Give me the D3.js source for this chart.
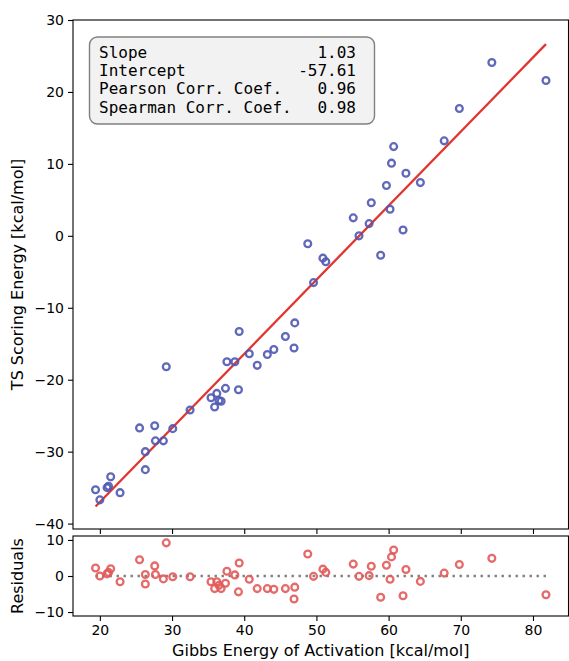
<!DOCTYPE html>
<html>
<head>
<meta charset="utf-8">
<script src="https://cdn.jsdelivr.net/npm/d3@7/dist/d3.min.js"></script>
<style>
  body { margin: 0; background: #fff; }
  svg { display: block; font-family: "DejaVu Sans", sans-serif; }
</style>
</head>
<body>
<script>
// data
var gibbs = [19.4, 20.0, 21.0, 21.2, 21.5, 22.8, 25.5, 26.3, 26.3, 27.6,
             27.7, 28.8, 29.2, 30.1, 32.5, 35.4, 35.9, 36.2, 36.5, 36.8,
             37.4, 37.6, 38.7, 39.2, 39.3, 40.7, 41.8, 43.2, 44.1, 45.7,
             47.0, 46.9, 48.8, 49.6, 50.9, 51.3, 55.1, 55.9, 57.3, 57.6,
             58.9, 59.7, 60.2, 60.4, 60.7, 62.0, 62.4, 64.4, 67.7, 69.8,
             74.3, 81.8]
var tsScore = [-35.3, -36.7, -35.0, -34.8, -33.5, -35.7, -26.7, -30.0, -32.5, -26.4,
               -28.5, -28.5, -18.2, -26.8, -24.2, -22.5, -23.8, -21.9, -22.9, -23.0,
               -21.2, -17.5, -17.5, -21.4, -13.3, -16.4, -18.0, -16.5, -15.8, -14.0,
               -12.1, -15.6, -1.1, -6.5, -3.1, -3.6, 2.5, 0.0, 1.7, 4.6,
               -2.7, 7.0, 3.7, 10.1, 12.4, 0.8, 8.7, 7.4, 13.2, 17.7,
               24.1, 21.6]
var residuals = [2.2, 0.0, 0.6, 1.0, 2.0, -1.6, 4.5, 0.4, -2.2, 2.8,
                 0.4, -0.8, 9.2, -0.2, -0.2, -1.6, -3.5, -1.6, -2.6, -3.5,
                 -2.0, 1.3, 0.3, -4.4, 3.6, -0.9, -3.5, -3.5, -3.7, -3.5,
                 -3.1, -6.4, 6.1, -0.1, 1.9, 1.0, 3.3, -0.1, 0.1, 2.7,
                 -5.9, 3.0, -0.9, 5.3, 7.2, -5.5, 1.8, -1.5, 0.8, 3.2,
                 4.9, -5.2]

var slope = 1.03, intercept = -57.61
var statLabels = ["Slope", "Intercept", "Pearson Corr. Coef.", "Spearman Corr. Coef."]
var statValues = ["1.03", "-57.61", "0.96", "0.98"]

var xTicks = [20, 30, 40, 50, 60, 70, 80]
var yTicks = [-40, -30, -20, -10, 0, 10, 20, 30]
var rTicks = [-10, 0, 10]

var width = 569, height = 661
var left = 73, right = 568.5
var top1 = 20, bot1 = 529, top2 = 536, bot2 = 616

var blue = "#4f58b3", red = "#e25a5a", lineRed = "#e2352f"

var svg = d3.select("body").append("svg")
            .attr("width", width)
            .attr("height", height)

var ext = d3.extent(gibbs)
var pad = (ext[1] - ext[0]) * 0.05
var x = d3.scaleLinear().domain([ext[0] - pad, ext[1] + pad]).range([left, right])
var y = d3.scaleLinear().domain([-40.75, 30]).range([bot1, top1])
var yr = d3.scaleLinear().domain([-11.1, 11.1]).range([bot2, top2])

var fmt = function(d){ return d3.format("d")(d).replace("-", "\u2212") }

function styleAxis(g){
    g.selectAll("text").attr("font-size", 14).attr("fill", "#000")
     .attr("font-family", "DejaVu Sans, sans-serif")
    g.selectAll("line").attr("stroke", "#000").attr("stroke-width", 1.1)
    g.select(".domain").remove()
}

// ---- top panel ----
svg.append("g").attr("transform", "translate(" + left + ",0)")
   .call(d3.axisLeft(y).tickValues(yTicks).tickFormat(fmt).tickSize(5).tickPadding(4))
   .call(styleAxis)
svg.append("g").attr("transform", "translate(0," + bot1 + ")")
   .call(d3.axisBottom(x).tickValues(xTicks).tickFormat("").tickSize(5))
   .call(styleAxis)

// fit line
var x0 = d3.min(gibbs), x1 = d3.max(gibbs)
svg.append("line")
   .attr("x1", x(x0)).attr("y1", y(slope * x0 + intercept))
   .attr("x2", x(x1)).attr("y2", y(slope * x1 + intercept))
   .attr("stroke", lineRed).attr("stroke-width", 2.3)

svg.append("g").selectAll("circle")
   .data(gibbs)
   .enter()
   .append("circle")
   .attr("cx", function(d){ return x(d) })
   .attr("cy", function(d, i){ return y(tsScore[i]) })
   .attr("r", 3.4)
   .attr("fill", "none")
   .attr("stroke", blue)
   .attr("stroke-opacity", 0.9)
   .attr("stroke-width", 2.3)

svg.append("rect")
   .attr("x", left).attr("y", top1)
   .attr("width", right - left).attr("height", bot1 - top1)
   .attr("fill", "none").attr("stroke", "#000").attr("stroke-width", 1.1)

// stats box
var box = svg.append("g")
box.append("rect")
   .attr("x", 89.5).attr("y", 37).attr("width", 285).attr("height", 87)
   .attr("rx", 8).attr("ry", 8)
   .attr("fill", "#f2f2f2").attr("stroke", "#808080").attr("stroke-width", 1.4)
box.selectAll("text.lab")
   .data(statLabels)
   .enter()
   .append("text")
   .attr("class", "lab")
   .attr("x", 99)
   .attr("y", function(d, i){ return 57.5 + i * 18.4 })
   .attr("font-family", "DejaVu Sans Mono, monospace")
   .attr("font-size", 16)
   .text(function(d){ return d })
box.selectAll("text.val")
   .data(statValues)
   .enter()
   .append("text")
   .attr("class", "val")
   .attr("x", 356)
   .attr("y", function(d, i){ return 57.5 + i * 18.4 })
   .attr("text-anchor", "end")
   .attr("font-family", "DejaVu Sans Mono, monospace")
   .attr("font-size", 16)
   .text(function(d){ return d })

// ---- residual panel ----
svg.append("g").attr("transform", "translate(" + left + ",0)")
   .call(d3.axisLeft(yr).tickValues(rTicks).tickFormat(fmt).tickSize(5).tickPadding(4))
   .call(styleAxis)
svg.append("g").attr("transform", "translate(0," + bot2 + ")")
   .call(d3.axisBottom(x).tickValues(xTicks).tickFormat(fmt).tickSize(5).tickPadding(4))
   .call(styleAxis)

svg.append("line")
   .attr("x1", x(x0)).attr("y1", yr(0))
   .attr("x2", x(x1)).attr("y2", yr(0))
   .attr("stroke", "#808080").attr("stroke-width", 2.4)
   .attr("stroke-dasharray", "2.4,4.6")

svg.append("g").selectAll("circle")
   .data(gibbs)
   .enter()
   .append("circle")
   .attr("cx", function(d){ return x(d) })
   .attr("cy", function(d, i){ return yr(residuals[i]) })
   .attr("r", 3.4)
   .attr("fill", "none")
   .attr("stroke", red)
   .attr("stroke-opacity", 0.9)
   .attr("stroke-width", 2.3)

svg.append("rect")
   .attr("x", left).attr("y", top2)
   .attr("width", right - left).attr("height", bot2 - top2)
   .attr("fill", "none").attr("stroke", "#000").attr("stroke-width", 1.1)

// axis labels
svg.append("text")
   .attr("transform", "translate(23," + (top1 + bot1) / 2 + ") rotate(-90)")
   .attr("text-anchor", "middle")
   .attr("font-size", 16)
   .text("TS Scoring Energy [kcal/mol]")
svg.append("text")
   .attr("transform", "translate(23," + (top2 + bot2) / 2 + ") rotate(-90)")
   .attr("text-anchor", "middle")
   .attr("font-size", 16)
   .text("Residuals")
svg.append("text")
   .attr("x", (left + right) / 2).attr("y", 656)
   .attr("text-anchor", "middle")
   .attr("font-size", 16)
   .text("Gibbs Energy of Activation [kcal/mol]")
</script>
</body>
</html>
